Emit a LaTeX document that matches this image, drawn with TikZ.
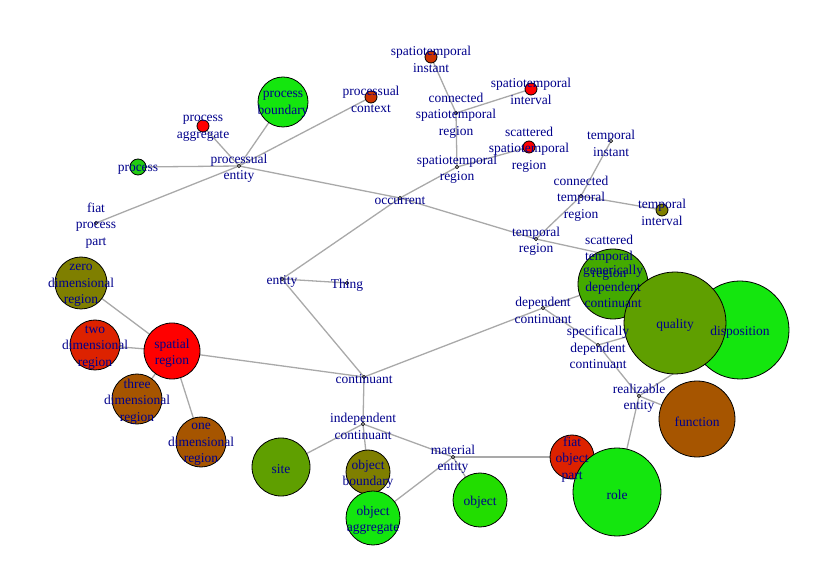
\documentclass[tikz,border=0pt]{standalone}
\usepackage{fontspec}
\setmainfont{Liberation Serif}
\usetikzlibrary{backgrounds}
\pgfdeclarelayer{foreground}
\pgfsetlayers{background,main,foreground}
\definecolor{lblc}{HTML}{00008B}
\definecolor{edgec}{HTML}{A9A9A9}
\definecolor{cR}{HTML}{FF0000}
\definecolor{cRa}{HTML}{DD2200}
\definecolor{cRb}{HTML}{CC3300}
\definecolor{cBr}{HTML}{A65500}
\definecolor{cOl}{HTML}{7F7F00}
\definecolor{cOg}{HTML}{5F9F00}
\definecolor{cGa}{HTML}{44AA00}
\definecolor{cGb}{HTML}{22DD00}
\definecolor{cGc}{HTML}{22CC11}
\definecolor{cGd}{HTML}{14E60E}
\tikzset{
  vtx/.style 2 args={circle,draw=black,line width=0.8pt,fill=#2,minimum size=2*#1 pt,inner sep=0pt},
  dotv/.style={circle,draw=black,line width=0.6pt,fill=white,minimum size=3.2pt,inner sep=0pt},
  lbl/.style={text=lblc,font=\fontsize{13.5}{16.5}\selectfont,align=center,inner sep=0pt,yshift=-2.5pt},
  edge/.style={draw=edgec,line width=1.3pt}
}
\begin{document}
\begin{tikzpicture}[x=1pt,y=1pt]
\useasboundingbox (0,0) rectangle (822,576);
% vertices
\node[dotv] (pe) at (239,410) {};
\node[vtx={8}{cGc}] (process) at (138,409) {};
\node[vtx={6}{cR}] (paggr) at (203,450) {};
\node[vtx={25}{cGd}] (pbound) at (283,474) {};
\node[vtx={6}{cRb}] (pctx) at (371,479) {};
\node[dotv] (fpp) at (96,353) {};
\node[dotv] (occ) at (400,378) {};
\node[dotv] (str) at (457,409) {};
\node[dotv] (cstr) at (456,463) {};
\node[vtx={6}{cRb}] (stinst) at (431,519) {};
\node[vtx={6}{cR}] (stint) at (531,487) {};
\node[vtx={6}{cR}] (sstr) at (529,429) {};
\node[dotv] (tr) at (536,337) {};
\node[dotv] (ctr) at (581,380) {};
\node[dotv] (tinst) at (611,435) {};
\node[vtx={6}{cOl}] (tint) at (662,366) {};
\node[dotv] (sctr) at (609,321) {};
\node[dotv] (entity) at (282,297) {};
\node[dotv] (thing) at (347,293) {};
\node[dotv] (cont) at (364,199) {};
\node[vtx={28}{cR}] (spatial) at (172,225) {};
\node[vtx={26}{cOl}] (zero) at (81,293) {};
\node[vtx={25}{cRa}] (two) at (95,231) {};
\node[vtx={25}{cBr}] (three) at (137,177) {};
\node[vtx={25}{cBr}] (one) at (201,134) {};
\node[dotv] (depc) at (543,268) {};
\node[vtx={35}{cGa}] (gdc) at (613,292) {};
\node[dotv] (sdc) at (598,231) {};
\node[vtx={49}{cGd}] (disp) at (740,246) {};
\node[vtx={51}{cOg}] (quality) at (675,253) {};
\node[dotv] (real) at (639,180) {};
\node[vtx={38}{cBr}] (function) at (697,157) {};
\node[vtx={22}{cRa}] (fop) at (572,119) {};
\node[vtx={44}{cGd}] (role) at (617,84) {};
\node[dotv] (mat) at (453,119) {};
\node[vtx={27}{cGb}] (object) at (480,76) {};
\node[vtx={22}{cOl}] (obound) at (368,104) {};
\node[vtx={27}{cGd}] (oaggr) at (373,58) {};
\node[vtx={29}{cOg}] (site) at (281,109) {};
\node[dotv] (indc) at (363,152) {};
% edges
\begin{pgfonlayer}{background}
\foreach \a/\b in {pe/process,pe/paggr,pe/pbound,pe/pctx,pe/fpp,pe/occ,
  occ/str,occ/tr,occ/entity,str/cstr,str/sstr,cstr/stinst,cstr/stint,
  tr/ctr,tr/sctr,ctr/tinst,ctr/tint,entity/thing,entity/cont,
  cont/spatial,cont/depc,cont/indc,spatial/zero,spatial/two,spatial/three,spatial/one,
  depc/gdc,depc/sdc,sdc/quality,sdc/real,real/disp,real/function,real/role,
  indc/site,indc/obound,indc/mat,mat/object,mat/oaggr,mat/fop}
  \draw[edge] (\a.center) -- (\b.center);
\end{pgfonlayer}
% labels
\begin{pgfonlayer}{foreground}
\node[lbl] at (pe) {processual\\entity};
\node[lbl] at (process) {process};
\node[lbl] at (paggr) {process\\aggregate};
\node[lbl] at (pbound) {process\\boundary};
\node[lbl] at (pctx) {processual\\context};
\node[lbl] at (fpp) {fiat\\process\\part};
\node[lbl] at (occ) {occurrent};
\node[lbl] at (str) {spatiotemporal\\region};
\node[lbl] at (cstr) {connected\\spatiotemporal\\region};
\node[lbl] at (stinst) {spatiotemporal\\instant};
\node[lbl] at (stint) {spatiotemporal\\interval};
\node[lbl] at (sstr) {scattered\\spatiotemporal\\region};
\node[lbl] at (tr) {temporal\\region};
\node[lbl] at (ctr) {connected\\temporal\\region};
\node[lbl] at (tinst) {temporal\\instant};
\node[lbl] at (tint) {temporal\\interval};
\node[lbl] at (sctr) {scattered\\temporal\\region};
\node[lbl] at (entity) {entity};
\node[lbl] at (thing) {Thing};
\node[lbl] at (cont) {continuant};
\node[lbl] at (spatial) {spatial\\region};
\node[lbl] at (zero) {zero\\dimensional\\region};
\node[lbl] at (two) {two\\dimensional\\region};
\node[lbl] at (three) {three\\dimensional\\region};
\node[lbl] at (one) {one\\dimensional\\region};
\node[lbl] at (depc) {dependent\\continuant};
\node[lbl] at (gdc) {generically\\dependent\\continuant};
\node[lbl] at (sdc) {specifically\\dependent\\continuant};
\node[lbl] at (quality) {quality};
\node[lbl] at (disp) {disposition};
\node[lbl] at (real) {realizable\\entity};
\node[lbl] at (function) {function};
\node[lbl] at (role) {role};
\node[lbl] at (fop) {fiat\\object\\part};
\node[lbl] at (mat) {material\\entity};
\node[lbl] at (object) {object};
\node[lbl] at (obound) {object\\boundary};
\node[lbl] at (oaggr) {object\\aggregate};
\node[lbl] at (site) {site};
\node[lbl] at (indc) {independent\\continuant};
\end{pgfonlayer}
\end{tikzpicture}
\end{document}
